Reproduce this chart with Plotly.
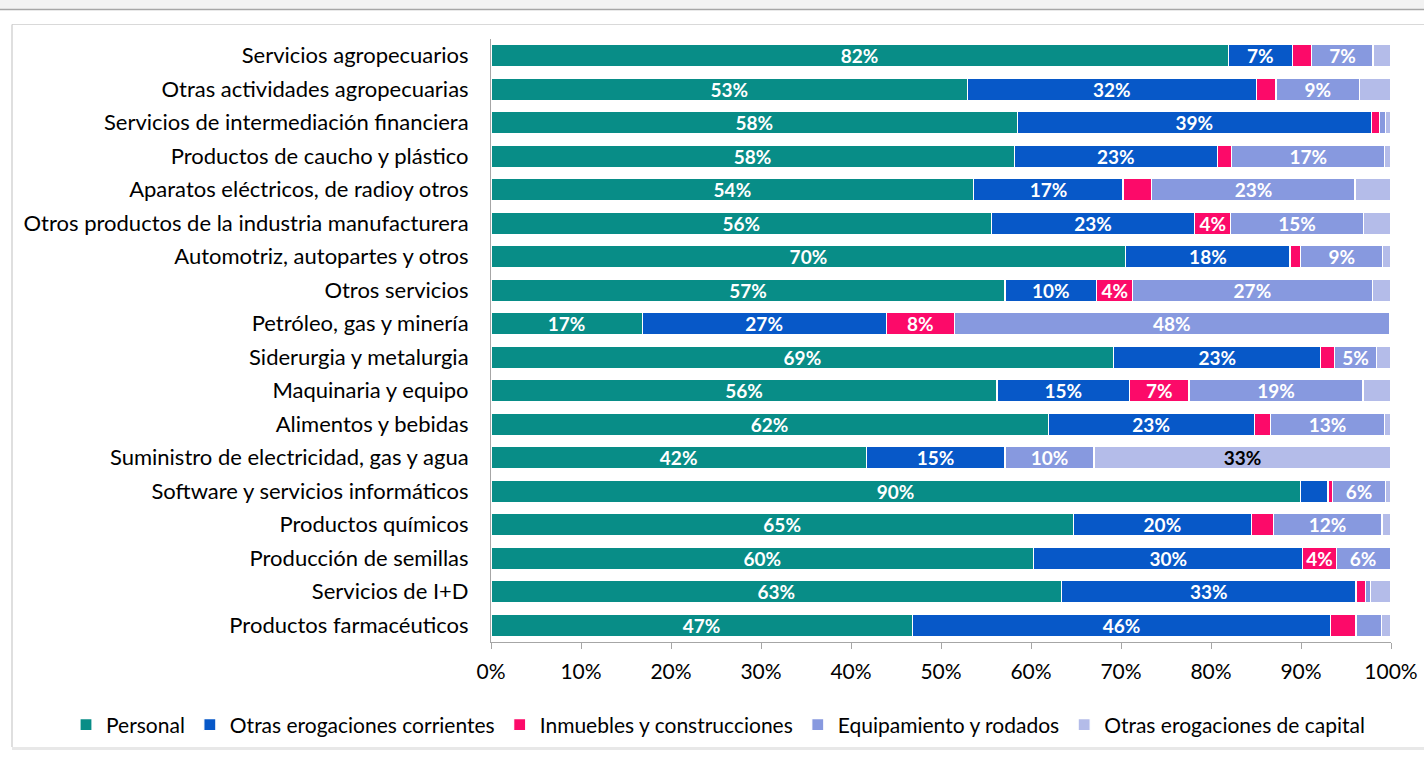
import plotly.graph_objects as go

categories = [
    "Servicios agropecuarios",
    "Otras actividades agropecuarias",
    "Servicios de intermediación financiera",
    "Productos de caucho y plástico",
    "Aparatos eléctricos, de radioy otros",
    "Otros productos de la industria manufacturera",
    "Automotriz, autopartes y otros",
    "Otros servicios",
    "Petróleo, gas y minería",
    "Siderurgia y metalurgia",
    "Maquinaria y equipo",
    "Alimentos y bebidas",
    "Suministro de electricidad, gas y agua",
    "Software y servicios informáticos",
    "Productos químicos",
    "Producción de semillas",
    "Servicios de I+D",
    "Productos farmacéuticos",
]

personal = [82.0, 53.0, 58.5, 58.2, 53.7, 55.6, 70.4, 57.1, 16.8, 69.2, 56.1, 61.9, 41.7, 89.9, 64.7, 60.3, 63.4, 46.8]
otras_corrientes = [7.1, 32.1, 39.3, 22.6, 16.6, 22.6, 18.2, 10.2, 27.1, 23.0, 14.7, 22.9, 15.4, 3.1, 19.8, 29.9, 32.7, 46.5]
inmuebles = [2.2, 2.2, 0.9, 1.6, 3.2, 4.0, 1.2, 4.0, 7.6, 1.5, 6.6, 1.8, 0.0, 0.5, 2.4, 3.7, 1.1, 2.8]
equipamiento = [6.8, 9.3, 0.7, 17.0, 22.6, 14.7, 9.1, 26.6, 48.3, 4.7, 19.3, 12.7, 9.9, 5.9, 12.1, 6.0, 0.5, 2.8]
otras_capital = [2.0, 3.5, 0.6, 0.7, 4.0, 3.1, 0.9, 2.1, 0.2, 1.6, 3.1, 0.7, 33.0, 0.6, 1.0, 0.1, 2.3, 1.1]

x_ticks = [0, 10, 20, 30, 40, 50, 60, 70, 80, 90, 100]

series = [
    ("Personal", personal, "#088D87", 3.5, "white"),
    ("Otras erogaciones corrientes", otras_corrientes, "#0758C8", 3.5, "white"),
    ("Inmuebles y construcciones", inmuebles, "#FC0A69", 3.5, "white"),
    ("Equipamiento y rodados", equipamiento, "#8799DF", 3.5, "white"),
    ("Otras erogaciones de capital", otras_capital, "#B4BCE9", 10.0, "black"),
]

FONT = "Lato, 'Open Sans', sans-serif"

fig = go.Figure()
for name, vals, color, thr, tcol in series:
    fig.add_trace(go.Bar(
        name=name,
        y=categories,
        x=vals,
        orientation="h",
        marker=dict(color=color, line=dict(color="white", width=1.2)),
        text=[f"{round(v):d}%" if v >= thr else "" for v in vals],
        textposition="inside",
        insidetextanchor="middle",
        textangle=0,
        textfont=dict(family=FONT, size=19, color=tcol, weight="bold"),
        hoverinfo="x+y+name",
    ))

W, H = 1424, 757
L, R, T, B = 491, 1391, 39, 642


def px(xp):
    return (xp - L) / (R - L)


def py(yp):
    return (B - yp) / (B - T)


shapes = [
    # top grey band
    dict(type="rect", xref="paper", yref="paper", x0=px(0), x1=px(W), y0=py(9), y1=py(0),
         fillcolor="#f2f2f2", line=dict(width=0), layer="below"),
    dict(type="line", xref="paper", yref="paper", x0=px(0), x1=px(W), y0=py(9.5), y1=py(9.5),
         line=dict(color="#a6a6a6", width=1.5)),
    # chart frame
    dict(type="line", xref="paper", yref="paper", x0=px(12), x1=px(W), y0=py(24.5), y1=py(24.5),
         line=dict(color="#d9d9d9", width=1)),
    dict(type="line", xref="paper", yref="paper", x0=px(12), x1=px(12), y0=py(24.5), y1=py(747),
         line=dict(color="#bfbfbf", width=1)),
    dict(type="rect", xref="paper", yref="paper", x0=px(12), x1=px(W), y0=py(750), y1=py(747),
         fillcolor="#e8e8e8", line=dict(width=0)),
]

fig.update_layout(
    width=W, height=H,
    margin=dict(l=L, r=W - R, t=T, b=H - B, autoexpand=False),
    barmode="stack",
    barnorm="percent",
    bargap=0.34,
    paper_bgcolor="white",
    plot_bgcolor="white",
    font=dict(family=FONT, size=21, color="#000000"),
    showlegend=True,
    legend=dict(
        orientation="h", x=px(66), xanchor="left", y=py(725), yanchor="middle",
        font=dict(family=FONT, size=21, color="#000000"),
        itemwidth=30, tracegroupgap=0, traceorder="normal",
    ),
    shapes=shapes,
    uniformtext=dict(mode="show", minsize=19),
)

fig.update_xaxes(
    range=[0, 100], tickvals=x_ticks, ticktext=[f"{t}%" for t in x_ticks],
    showgrid=False, zeroline=False,
    showline=True, linecolor="#a6a6a6", linewidth=1,
    ticks="outside", ticklen=6, tickcolor="#a6a6a6",
    ticklabelstandoff=5,
    tickfont=dict(family=FONT, size=21, color="#000000"),
    fixedrange=True,
)
fig.update_yaxes(
    autorange="reversed",
    showgrid=False, zeroline=False,
    showline=True, linecolor="#a6a6a6", linewidth=1,
    ticks="", ticklabelstandoff=17,
    tickfont=dict(family=FONT, size=22, color="#000000"),
    fixedrange=True,
)

fig.write_html(
    "out.html",
    config={"displayModeBar": False},
    post_script="document.body.style.margin='0';",
)
